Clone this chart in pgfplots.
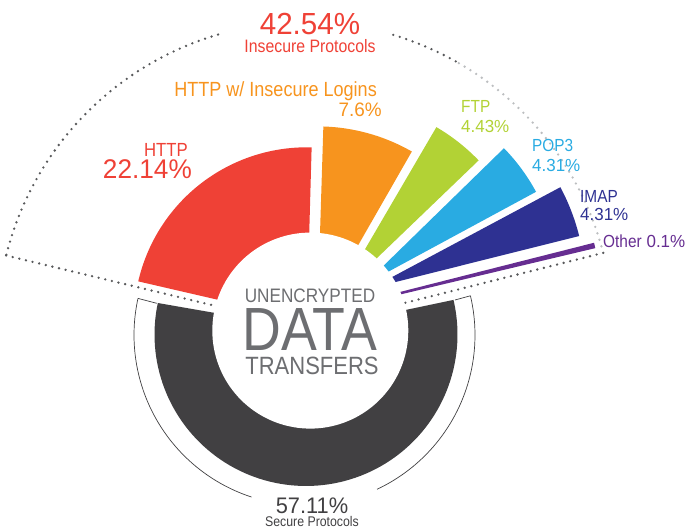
\documentclass[border=0pt]{standalone}
\usepackage{fontspec}
\setmainfont{Liberation Sans}
\newfontfamily\lab{Liberation Sans}[FakeStretch=0.88]
\newfontfamily\num{Liberation Sans}[FakeStretch=0.97]
\usepackage{pgfplots}
\pgfplotsset{compat=1.18}
\definecolor{cred}{HTML}{EF4136}
\definecolor{corange}{HTML}{F7941E}
\definecolor{cgreen}{HTML}{B2D235}
\definecolor{cblue}{HTML}{29ABE2}
\definecolor{cnavy}{HTML}{2E3192}
\definecolor{cpurple}{HTML}{662D91}
\definecolor{cdark}{HTML}{414042}
\definecolor{cgray}{HTML}{6D6E71}
\definecolor{cdot}{HTML}{58595B}
\definecolor{clight}{HTML}{BCBEC0}
% slice: colour, arc centre x, arc centre y (pixels, y down), radius, start angle, end angle, apex x, apex y
\newcommand{\slicefill}[8]{%
  \addplot[fill=#1, draw=none, domain=0:1.01, samples=102]
  ({(x<1.001) ? (#2+#4*cos(#5+(#6-#5)*x)) : (#7)},
   {(x<1.001) ? (527-#3+#4*sin(#5+(#6-#5)*x)) : (527-#8)});
}
\tikzset{dots/.style={line width=2.6pt, line cap=round, dash pattern=on 0pt off 6.8pt}}
\begin{document}
\begin{tikzpicture}
\begin{axis}[x=1pt, y=1pt, xmin=0, xmax=691, ymin=0, ymax=527,
  hide axis, scale only axis, enlargelimits=false, clip=false]
% dotted outline of the insecure part
\addplot[dots, color=cdot, domain=106.4:166, samples=80] ({305+308*cos(x)},{197+308*sin(x)});
\addplot[dots, color=cdot, domain=60.7:73.9, samples=30] ({305+308*cos(x)},{197+308*sin(x)});
\addplot[dots, color=clight, domain=14.5:60.7, samples=80] ({305+308*cos(x)},{197+308*sin(x)});
\addplot[dots, color=cdot] coordinates {(6.1,271.5) (211.7,222)};
\addplot[dots, color=cdot] coordinates {(603.2,274.1) (403.3,223.7)};
% thin bracket around secure part
\addplot[draw=cdark, line width=0.7pt, domain=167.6:251.9, samples=60] ({304.5+170.5*cos(x)},{192+170.5*sin(x)});
\addplot[draw=cdark, line width=0.7pt, domain=295.2:373.3, samples=60] ({304.5+170.5*cos(x)},{192+170.5*sin(x)});
\addplot[draw=cdark, line width=0.7pt] coordinates {(138.0,228.6) (156.7,223.7)};
\addplot[draw=cdark, line width=0.7pt] coordinates {(455,227) (470.4,231.2)};
% secure protocols ring
\slicefill{cdark}{306}{334.5}{151.5}{168.0}{373.2}{311.4}{329.75}
% insecure slices
\slicefill{cred}{306.8}{320.3}{173}{88.4}{167.0}{306.8}{320.3}
\slicefill{corange}{317.4}{316.4}{190}{60.2}{88.2}{317.4}{316.4}
\slicefill{cgreen}{338}{295.5}{195}{43.85}{59.7}{338}{295.5}
\slicefill{cblue}{363.9}{284.9}{195.7}{28.4}{44.3}{363.9}{284.9}
\slicefill{cnavy}{371.6}{288}{214}{14.05}{28.1}{371.6}{288}
\slicefill{cpurple}{237.8}{333.1}{367.5}{13.37}{14.23}{237.8}{333.1}
% centre hole
\addplot[fill=white, draw=none, domain=0:360, samples=145] ({310.3+98*cos(x)},{196.4+98*sin(x)});
% texts
\node[anchor=base, inner sep=0, text=cred] at (axis cs:310,492) {\num\fontsize{30.5}{30.5}\selectfont 42.54\%};
\node[anchor=base, inner sep=0, text=cred] at (axis cs:310,474) {\lab\fontsize{18}{18}\selectfont Insecure Protocols};
\node[anchor=base east, inner sep=0, text=corange] at (axis cs:377,430) {\lab\fontsize{20.5}{20.5}\selectfont HTTP w/ Insecure Logins};
\node[anchor=base east, inner sep=0, text=corange] at (axis cs:382,410) {\num\fontsize{19.5}{19.5}\selectfont 7.6\%};
\node[anchor=base east, inner sep=0, text=cred] at (axis cs:188,370) {\lab\fontsize{19}{19}\selectfont HTTP};
\node[anchor=base east, inner sep=0, text=cred] at (axis cs:192,348) {\num\fontsize{27}{27}\selectfont 22.14\%};
\node[anchor=base west, inner sep=0, text=cgreen] at (axis cs:461,414) {\lab\fontsize{17.5}{17.5}\selectfont FTP};
\node[anchor=base west, inner sep=0, text=cgreen] at (axis cs:461,394) {\num\fontsize{17.5}{17.5}\selectfont 4.43\%};
\node[anchor=base west, inner sep=0, text=cblue] at (axis cs:532,375) {\lab\fontsize{17.5}{17.5}\selectfont POP3};
\node[anchor=base west, inner sep=0, text=cblue] at (axis cs:532,355) {\num\fontsize{17.5}{17.5}\selectfont 4.31\%};
\node[anchor=base west, inner sep=0, text=cnavy] at (axis cs:580,324) {\lab\fontsize{17.5}{17.5}\selectfont IMAP};
\node[anchor=base west, inner sep=0, text=cnavy] at (axis cs:580,306) {\num\fontsize{17.5}{17.5}\selectfont 4.31\%};
\node[anchor=base west, inner sep=0, text=cpurple] at (axis cs:603,279) {\fontsize{17.5}{17.5}\selectfont{\lab Other} {\num 0.1\%}};
\node[anchor=base, inner sep=0, text=cgray] at (axis cs:310,224.7) {\lab\fontsize{19.5}{19.5}\selectfont UNENCRYPTED};
\node[anchor=base, inner sep=0, text=cgray] at (axis cs:310,176.3) {\lab\fontsize{61}{61}\selectfont DATA};
\node[anchor=base, inner sep=0, text=cgray] at (axis cs:312,152) {\lab\fontsize{25}{25}\selectfont TRANSFERS};
\node[anchor=base, inner sep=0, text=cdark] at (axis cs:312,13) {\num\fontsize{22.5}{22.5}\selectfont 57.11\%};
\node[anchor=base, inner sep=0, text=cdark] at (axis cs:312,0.5) {\lab\fontsize{14}{14}\selectfont Secure Protocols};
\end{axis}
\pgfresetboundingbox
\path[use as bounding box] (current axis.south west) rectangle (current axis.north east);
\end{tikzpicture}
\end{document}
